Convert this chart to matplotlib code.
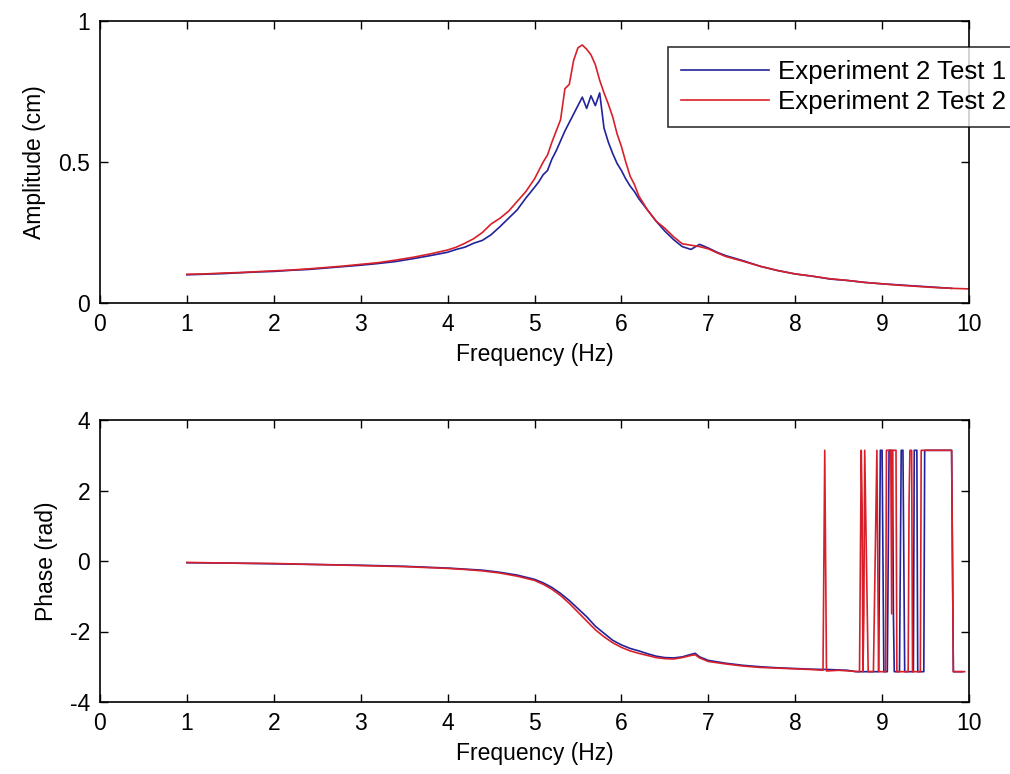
import numpy as np
import matplotlib
matplotlib.use("Agg")
import matplotlib.pyplot as plt

plt.rcParams['font.family'] = ['Liberation Sans', 'DejaVu Sans']
plt.rcParams['axes.unicode_minus'] = False

# amplitude data
freq_amp = [1.0, 1.2, 1.4, 1.6, 1.8, 2.0, 2.2, 2.4, 2.6, 2.8, 3.0, 3.2, 3.4, 3.6, 3.8,
            4.0, 4.1, 4.2, 4.3, 4.4, 4.5, 4.6, 4.7, 4.8, 4.9, 5.0, 5.05, 5.1, 5.15, 5.2,
            5.25, 5.3, 5.35, 5.4, 5.45, 5.5, 5.55, 5.6, 5.65, 5.7, 5.75, 5.8, 5.85, 5.9,
            5.95, 6.0, 6.05, 6.1, 6.15, 6.2, 6.3, 6.4, 6.5, 6.6, 6.7, 6.8, 6.9, 7.0, 7.1,
            7.2, 7.4, 7.6, 7.8, 8.0, 8.2, 8.4, 8.6, 8.8, 9.0, 9.2, 9.4, 9.6, 9.8, 10.0]
amp_test1 = [0.100, 0.102, 0.104, 0.107, 0.110, 0.112, 0.116, 0.119, 0.124, 0.129, 0.134,
             0.140, 0.147, 0.157, 0.168, 0.180, 0.190, 0.198, 0.212, 0.222, 0.242, 0.270,
             0.300, 0.330, 0.372, 0.410, 0.430, 0.455, 0.470, 0.510, 0.540, 0.575, 0.610,
             0.640, 0.670, 0.700, 0.730, 0.690, 0.735, 0.700, 0.745, 0.620, 0.570, 0.530,
             0.495, 0.470, 0.440, 0.415, 0.395, 0.370, 0.330, 0.290, 0.255, 0.225, 0.200,
             0.190, 0.208, 0.195, 0.180, 0.168, 0.150, 0.130, 0.115, 0.103, 0.095, 0.085,
             0.080, 0.073, 0.068, 0.064, 0.060, 0.056, 0.052, np.nan]
amp_test2 = [0.102, 0.103, 0.106, 0.108, 0.111, 0.114, 0.117, 0.121, 0.126, 0.131, 0.137,
             0.143, 0.152, 0.162, 0.174, 0.188, 0.198, 0.212, 0.228, 0.250, 0.280, 0.300,
             0.325, 0.360, 0.395, 0.440, 0.470, 0.500, 0.525, 0.570, 0.610, 0.650, 0.760,
             0.775, 0.860, 0.905, 0.915, 0.900, 0.880, 0.845, 0.790, 0.745, 0.705, 0.660,
             0.600, 0.555, 0.500, 0.450, 0.420, 0.380, 0.330, 0.290, 0.265, 0.235, 0.210,
             0.205, 0.200, 0.192, 0.178, 0.165, 0.148, 0.130, 0.115, 0.103, 0.095, 0.086,
             0.080, 0.073, 0.068, 0.063, 0.059, 0.055, 0.052, 0.050]

# phase data
freq_ph1 = [1.0, 1.5, 2.0, 2.5, 3.0, 3.5, 4.0, 4.2, 4.4, 4.6, 4.8, 5.0, 5.1, 5.2, 5.3, 5.4,
            5.5, 5.6, 5.7, 5.8, 5.9, 6.0, 6.1, 6.2, 6.3, 6.4, 6.5, 6.6, 6.7, 6.8, 6.85, 6.9,
            7.0, 7.2, 7.4, 7.6, 7.8, 8.0, 8.2, 8.4, 8.6, 8.70,
            8.96, 8.97, 8.98, 9.00, 9.01, 9.02, 9.06, 9.07, 9.08, 9.12, 9.13, 9.14, 9.20,
            9.21, 9.22, 9.24, 9.25, 9.26, 9.36, 9.37, 9.40, 9.41, 9.48, 9.49, 9.80, 9.81,
            9.82, 9.92]
phase_test1 = [-0.05, -0.06, -0.08, -0.10, -0.12, -0.15, -0.20, -0.23, -0.26, -0.32, -0.40,
               -0.52, -0.62, -0.75, -0.92, -1.12, -1.35, -1.58, -1.85, -2.05, -2.25, -2.38,
               -2.48, -2.55, -2.63, -2.70, -2.74, -2.75, -2.72, -2.65, -2.62, -2.72, -2.82,
               -2.90, -2.96, -3.00, -3.03, -3.05, -3.07, -3.08, -3.10, -3.14,
               -3.14, 0.0, 3.14, 3.14, 0.0, -3.14, -3.14, 0.0, 3.14, 3.14, -1.5, -3.14, -3.14,
               0.0, 3.14, 3.14, 0.0, -3.14, -3.14, 3.14, 3.14, -3.14, -3.14, 3.14, 3.14, 0.0,
               -3.14, -3.14]

freq_ph2 = [1.0, 1.5, 2.0, 2.5, 3.0, 3.5, 4.0, 4.2, 4.4, 4.6, 4.8, 5.0, 5.1, 5.2, 5.3, 5.4,
            5.5, 5.6, 5.7, 5.8, 5.9, 6.0, 6.1, 6.2, 6.3, 6.4, 6.5, 6.6, 6.7, 6.8, 6.85, 6.9,
            7.0, 7.2, 7.4, 7.6, 7.8, 8.0, 8.2, 8.32, 8.33, 8.34, 8.35, 8.36, 8.5, 8.74,
            8.76, 8.77, 8.78, 8.79, 8.80, 8.82, 8.84, 8.90, 8.94, 8.96, 9.04, 9.05, 9.10,
            9.11, 9.12, 9.16, 9.17, 9.30, 9.31, 9.32, 9.34, 9.35, 9.44, 9.45, 9.80, 9.81,
            9.82, 9.95]
phase_test2 = [-0.04, -0.06, -0.07, -0.10, -0.13, -0.16, -0.21, -0.24, -0.28, -0.34, -0.43,
               -0.55, -0.66, -0.80, -0.98, -1.20, -1.45, -1.70, -1.95, -2.15, -2.32, -2.45,
               -2.55, -2.62, -2.68, -2.74, -2.77, -2.78, -2.74, -2.68, -2.66, -2.75, -2.85,
               -2.92, -2.98, -3.02, -3.04, -3.06, -3.08, -3.10, 0.0, 3.14, 0.0, -3.12, -3.10,
               -3.14, 3.14, 1.6, -3.14, -1.5, 3.14, 0.0, -3.14, -3.14, 3.14, -3.14, -3.14,
               3.14, 3.14, -1.5, 3.14, 3.14, -3.14, -3.14, 1.6, 3.14, 3.14, -3.14, -3.14, 3.14,
               3.14, 0.0, -3.14, -3.14]

labels = ["Experiment 2 Test 1", "Experiment 2 Test 2"]
blue = "#22229a"
red = "#d8202a"
fs = 16.5

fig = plt.figure(figsize=(10.1, 7.74), dpi=100)
ax1 = fig.add_axes([100 / 1010, 1 - 303 / 774, 869 / 1010, 282 / 774])
ax2 = fig.add_axes([100 / 1010, 1 - 702 / 774, 869 / 1010, 282 / 774])

l1, = ax1.plot(freq_amp, amp_test1, color=blue, lw=1.2, label=labels[0])
l2, = ax1.plot(freq_amp, amp_test2, color=red, lw=1.2, label=labels[1])
ax1.set_xlim(0, 10)
ax1.set_ylim(0, 1)
ax1.set_yticks([0, 0.5, 1])
ax1.set_yticklabels(["0", "0.5", "1"])
ax1.set_ylabel("Amplitude (cm)")
ax1.set_xlabel("Frequency (Hz)")

ax2.plot(freq_ph1, phase_test1, color=blue, lw=1.2)
ax2.plot(freq_ph2, phase_test2, color=red, lw=1.2)
ax2.set_xlim(0, 10)
ax2.set_ylim(-4, 4)
ax2.set_yticks([-4, -2, 0, 2, 4])
ax2.set_ylabel("Phase (rad)")
ax2.set_xlabel("Frequency (Hz)")

for ax in (ax1, ax2):
    ax.set_xticks(range(0, 11))
    ax.tick_params(direction="in", top=True, right=True, length=6, width=1,
                   labelsize=fs, pad=7)
    for s in ax.spines.values():
        s.set_linewidth(1.2)
    ax.xaxis.label.set_size(fs)
    ax.yaxis.label.set_size(fs)
    ax.xaxis.labelpad = 5
    ax.yaxis.labelpad = 9

leg = fig.legend(handles=[l1, l2], loc="upper left", bbox_to_anchor=(668 / 1010, 1 - 47 / 774),
                 fontsize=18.6, frameon=True, fancybox=False, handlelength=3.4,
                 handletextpad=0.35, borderpad=0.5, labelspacing=0.25, borderaxespad=0)
leg.get_frame().set_edgecolor("black")
leg.get_frame().set_linewidth(1.2)

fig.savefig("out.png", dpi=100)
